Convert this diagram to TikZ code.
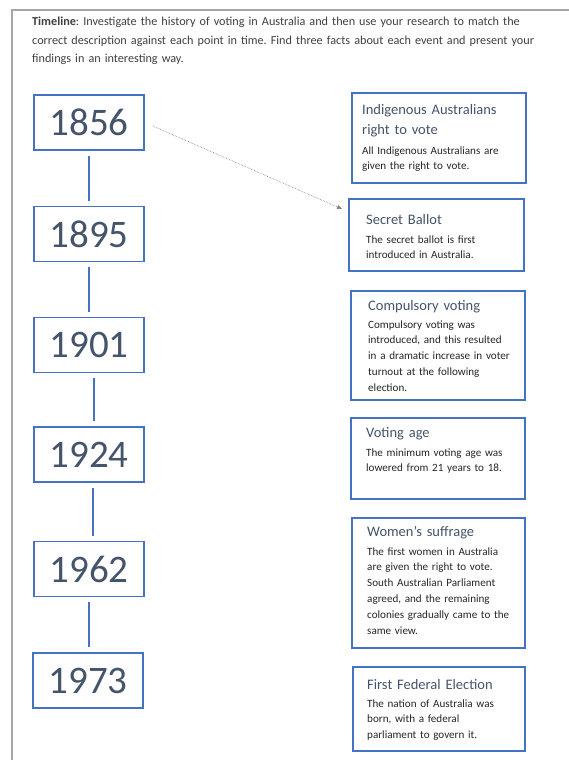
\documentclass[tikz,border=0pt]{standalone}
\usepackage{fontspec}
\setmainfont{Carlito}
\frenchspacing
\usetikzlibrary{arrows.meta}
\definecolor{boxblue}{HTML}{4472C4}
\definecolor{slate}{HTML}{44546A}
\definecolor{bodytxt}{HTML}{262626}
\definecolor{headtxt}{HTML}{404040}
\definecolor{framegray}{HTML}{A6A6A6}
\definecolor{arrowgray}{HTML}{7F7F7F}
\begin{document}
\begin{tikzpicture}[x=1pt,y=-1pt,
  yearbox/.style={draw=boxblue, line width=1.6pt, minimum width=110pt, minimum height=55pt, inner sep=0pt, text=slate, font=\fontsize{39}{42}\selectfont},
  descbox/.style={draw=boxblue, line width=1.6pt, anchor=north west, inner sep=0pt},
  dtitle/.style={anchor=base west, inner sep=0pt, text=slate, font=\fontsize{14.5}{20}\selectfont, text width=165pt, align=left},
  dbody/.style={anchor=base west, inner sep=0pt, text=bodytxt, font=\fontsize{11.1}{15.8}\selectfont, text width=165pt, align=left},
  link/.style={draw=boxblue, line width=1.2pt, shorten >=5pt, shorten <=5pt},
  pointer/.style={draw=arrowgray, densely dotted, line width=0.6pt, -{Triangle[length=5pt,width=4pt]}, shorten <=9pt},
]
\useasboundingbox (0,0) rectangle (569,760);
\fill[white] (0,0) rectangle (569,760);
% page frame
\draw[framegray, line width=1.5pt] (569,10) -- (12,10) -- (12,760);
% header
\node[anchor=base west, inner sep=0pt, text=headtxt, text width=535pt, align=left,
      font=\fontsize{12.2}{18.5}\selectfont] (header) at (32,26)
  {\textbf{Timeline}: Investigate the history of voting in Australia and then use your research to match the\\
   correct description against each point in time. Find three facts about each event and present your\\
   findings in an interesting way.};
% year boxes
\node[yearbox] (y1856) at (89,122.5) {1856};
\node[yearbox] (y1895) at (89,234) {1895};
\node[yearbox] (y1901) at (89,345) {1901};
\node[yearbox] (y1924) at (89,454.5) {1924};
\node[yearbox] (y1962) at (89,569) {1962};
\node[yearbox] (y1973) at (88,680.5) {1973};
% timeline links
\draw[link] (y1856.south) -- (y1895.north);
\draw[link] (y1895.south) -- (y1901.north);
\draw[link] ([xshift=5pt]y1901.south) -- ([xshift=5pt]y1924.north);
\draw[link] ([xshift=4pt]y1924.south) -- ([xshift=4pt]y1962.north);
\draw[link] (y1962.south) -- ([xshift=1pt]y1973.north);
% description boxes
\node[descbox, minimum width=174pt, minimum height=90pt] (d1) at (351,92) {};
\node[dtitle] (t1) at (362,114) {Indigenous Australians\\right to vote};
\node[dbody] (b1) at (362,154) {All Indigenous Australians are\\given the right to vote.};

\node[descbox, minimum width=175pt, minimum height=72pt] (d2) at (348,198) {};
\node[dtitle] (t2) at (366,224) {Secret Ballot};
\node[dbody] (b2) at (366,243) {The secret ballot is first\\introduced in Australia.};

\node[descbox, minimum width=174pt, minimum height=109pt] (d3) at (350,290) {};
\node[dtitle] (t3) at (368,310) {Compulsory voting};
\node[dbody] (b3) at (368,328) {Compulsory voting was\\introduced, and this resulted\\in a dramatic increase in voter\\turnout at the following\\election.};

\node[descbox, minimum width=174pt, minimum height=81pt] (d4) at (350,417) {};
\node[dtitle] (t4) at (366,437) {Voting age};
\node[dbody] (b4) at (366,456) {The minimum voting age was\\lowered from 21 years to 18.};

\node[descbox, minimum width=173pt, minimum height=130pt] (d5) at (351,517) {};
\node[dtitle] (t5) at (367,536) {Women’s suffrage};
\node[dbody] (b5) at (367,555) {The first women in Australia\\are given the right to vote.\\South Australian Parliament\\agreed, and the remaining\\colonies gradually came to the\\same view.};

\node[descbox, minimum width=172pt, minimum height=84pt] (d6) at (352,666) {};
\node[dtitle] (t6) at (367,689) {First Federal Election};
\node[dbody] (b6) at (367,707) {The nation of Australia was\\born, with a federal\\parliament to govern it.};
% dotted pointer
\coordinate (arrowend) at (342,209);
\draw[pointer] (y1856.east) -- (arrowend);
\end{tikzpicture}
\end{document}
